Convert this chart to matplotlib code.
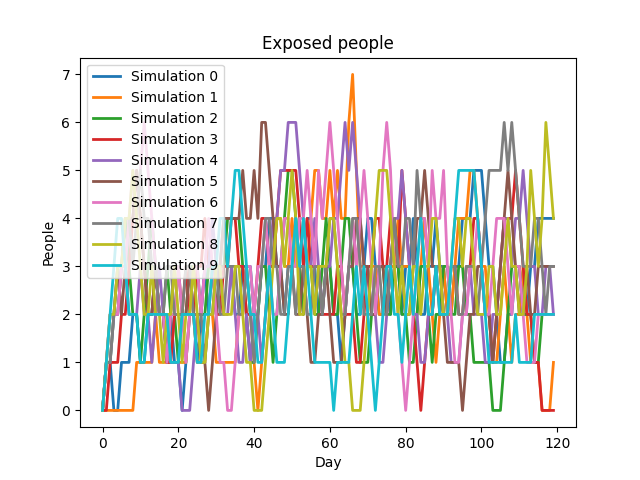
import matplotlib
matplotlib.use("Agg")
import matplotlib.pyplot as plt
import numpy as np

# exposed people per day, one list per simulation run
sim0 = [0, 1, 1, 0, 0, 1, 1, 1, 2, 2,
        1, 1, 2, 2, 3, 2, 2, 1, 2, 1,
        1, 0, 1, 2, 2, 1, 2, 3, 2, 2,
        3, 3, 4, 3, 3, 2, 2, 3, 3, 3,
        2, 2, 3, 3, 4, 4, 3, 3, 2, 3,
        3, 4, 3, 3, 4, 4, 3, 2, 2, 3,
        3, 2, 2, 1, 2, 3, 3, 2, 2, 3,
        4, 4, 3, 2, 2, 3, 2, 3, 3, 2,
        3, 3, 4, 3, 2, 2, 3, 3, 4, 3,
        3, 2, 2, 3, 3, 4, 4, 4, 5, 5,
        5, 4, 3, 3, 2, 1, 1, 2, 2, 3,
        3, 2, 2, 3, 3, 4, 4, 4, 4, 4]
sim1 = [0, 0, 0, 0, 0, 0, 0, 0, 0, 1,
        1, 1, 1, 1, 2, 1, 1, 1, 1, 1,
        1, 1, 1, 2, 2, 1, 1, 1, 2, 2,
        1, 1, 1, 1, 1, 1, 2, 2, 3, 2,
        1, 0, 1, 2, 3, 3, 4, 4, 3, 3,
        4, 3, 3, 2, 3, 4, 5, 5, 4, 4,
        5, 4, 5, 4, 4, 6, 7, 5, 3, 3,
        3, 3, 3, 2, 2, 3, 3, 3, 4, 3,
        3, 3, 2, 2, 3, 4, 3, 2, 1, 2,
        3, 2, 2, 3, 4, 4, 4, 5, 5, 4,
        3, 3, 2, 1, 1, 2, 3, 2, 1, 2,
        2, 3, 2, 1, 1, 1, 0, 0, 0, 1]
sim2 = [0, 1, 1, 2, 2, 3, 4, 3, 2, 2,
        1, 2, 3, 4, 3, 2, 2, 3, 2, 2,
        1, 2, 2, 3, 3, 3, 2, 2, 3, 3,
        2, 3, 3, 4, 4, 4, 4, 3, 2, 1,
        1, 2, 3, 3, 2, 1, 2, 3, 4, 5,
        5, 4, 3, 2, 3, 3, 2, 2, 3, 4,
        3, 2, 2, 3, 4, 4, 3, 2, 1, 1,
        1, 2, 2, 3, 3, 2, 2, 3, 3, 2,
        2, 1, 1, 2, 3, 3, 2, 1, 2, 2,
        3, 3, 2, 2, 3, 3, 2, 2, 1, 1,
        1, 1, 1, 0, 0, 0, 1, 2, 3, 3,
        3, 2, 2, 2, 1, 1, 2, 2, 2, 2]
sim3 = [0, 0, 1, 1, 1, 2, 2, 3, 4, 5,
        4, 3, 2, 2, 3, 2, 2, 1, 1, 2,
        2, 2, 3, 2, 2, 3, 3, 4, 3, 3,
        2, 2, 3, 3, 4, 4, 3, 3, 2, 2,
        2, 3, 4, 4, 3, 3, 4, 5, 5, 5,
        5, 5, 4, 3, 4, 3, 3, 3, 2, 2,
        2, 2, 3, 3, 2, 2, 2, 1, 1, 2,
        3, 3, 4, 4, 3, 3, 4, 4, 3, 5,
        4, 3, 2, 1, 0, 1, 2, 2, 3, 3,
        2, 2, 3, 3, 2, 2, 3, 3, 4, 4,
        3, 2, 2, 1, 2, 3, 4, 4, 4, 5,
        4, 3, 2, 2, 1, 1, 0, 0, 0, 0]
sim4 = [0, 1, 1, 2, 2, 3, 3, 2, 2, 2,
        3, 2, 2, 1, 2, 3, 2, 2, 1, 1,
        1, 0, 0, 0, 1, 2, 2, 3, 3, 4,
        3, 3, 2, 2, 3, 2, 1, 1, 2, 1,
        2, 2, 1, 2, 3, 4, 4, 5, 5, 6,
        6, 6, 5, 4, 3, 3, 4, 3, 2, 3,
        3, 4, 4, 5, 6, 5, 6, 5, 4, 3,
        3, 2, 2, 1, 1, 2, 3, 4, 4, 5,
        4, 3, 2, 2, 1, 1, 2, 2, 3, 3,
        2, 2, 1, 1, 1, 2, 2, 3, 2, 2,
        2, 1, 1, 2, 2, 3, 4, 4, 3, 4,
        4, 5, 4, 3, 3, 2, 2, 3, 3, 2]
sim5 = [0, 1, 2, 2, 3, 2, 3, 4, 4, 5,
        4, 3, 2, 2, 3, 2, 2, 1, 2, 3,
        3, 2, 2, 3, 2, 2, 1, 1, 0, 1,
        2, 3, 4, 4, 4, 4, 4, 5, 4, 4,
        5, 4, 6, 6, 5, 4, 3, 3, 2, 2,
        3, 2, 2, 3, 2, 1, 1, 2, 2, 3,
        2, 1, 1, 1, 2, 3, 3, 4, 4, 3,
        3, 2, 2, 3, 3, 2, 3, 4, 3, 3,
        2, 2, 3, 4, 4, 5, 4, 3, 3, 2,
        2, 1, 1, 1, 1, 0, 1, 2, 2, 3,
        3, 2, 2, 1, 2, 3, 4, 5, 4, 3,
        2, 2, 3, 2, 2, 3, 3, 3, 3, 3]
sim6 = [0, 1, 2, 2, 2, 3, 3, 4, 5, 4,
        5, 6, 5, 4, 3, 2, 2, 1, 2, 2,
        3, 2, 1, 2, 3, 3, 2, 3, 4, 3,
        2, 1, 1, 0, 0, 1, 2, 2, 3, 3,
        2, 3, 3, 4, 3, 2, 2, 3, 4, 4,
        3, 3, 4, 4, 5, 4, 3, 5, 4, 5,
        6, 5, 4, 3, 2, 3, 4, 3, 4, 5,
        4, 3, 2, 3, 5, 6, 5, 3, 2, 1,
        0, 1, 2, 3, 4, 4, 3, 5, 4, 4,
        5, 3, 2, 1, 1, 2, 2, 3, 3, 4,
        3, 2, 2, 3, 4, 4, 4, 3, 2, 3,
        3, 2, 1, 1, 1, 2, 2, 2, 2, 2]
sim7 = [0, 1, 1, 2, 3, 3, 4, 4, 3, 4,
        5, 4, 4, 3, 3, 2, 2, 3, 3, 2,
        2, 2, 3, 3, 2, 2, 2, 1, 2, 3,
        3, 2, 2, 3, 3, 3, 2, 2, 3, 2,
        1, 2, 3, 4, 4, 3, 3, 2, 2, 3,
        3, 2, 3, 3, 2, 2, 3, 3, 2, 3,
        4, 4, 3, 2, 2, 3, 4, 4, 3, 2,
        2, 2, 3, 3, 2, 2, 3, 4, 3, 3,
        4, 4, 3, 5, 4, 3, 2, 2, 3, 3,
        2, 2, 3, 3, 2, 2, 3, 3, 3, 2,
        3, 4, 5, 5, 5, 5, 6, 5, 6, 5,
        4, 3, 3, 3, 4, 4, 3, 2, 3, 3]
sim8 = [0, 1, 2, 2, 3, 3, 4, 4, 5, 4,
        3, 2, 2, 3, 2, 2, 1, 2, 2, 3,
        2, 1, 2, 2, 3, 2, 1, 1, 2, 2,
        3, 3, 2, 2, 2, 3, 3, 2, 1, 1,
        0, 0, 0, 1, 2, 3, 4, 4, 3, 4,
        5, 4, 2, 2, 3, 3, 2, 3, 3, 3,
        4, 4, 3, 2, 1, 1, 0, 0, 0, 1,
        2, 3, 4, 5, 5, 5, 4, 3, 2, 3,
        2, 2, 3, 3, 2, 3, 3, 4, 4, 3,
        2, 2, 3, 4, 4, 3, 4, 4, 3, 2,
        2, 2, 3, 3, 2, 2, 3, 4, 3, 3,
        2, 2, 3, 5, 4, 3, 4, 6, 5, 4]
sim9 = [0, 1, 2, 3, 4, 4, 3, 2, 2, 2,
        1, 1, 2, 2, 2, 2, 2, 2, 1, 1,
        1, 2, 2, 2, 2, 1, 1, 2, 2, 3,
        3, 4, 4, 3, 4, 5, 5, 4, 3, 2,
        2, 1, 1, 2, 3, 2, 1, 1, 1, 2,
        3, 4, 3, 4, 3, 2, 1, 1, 1, 1,
        1, 0, 1, 1, 1, 1, 2, 3, 2, 3,
        2, 1, 0, 1, 2, 3, 3, 2, 2, 1,
        2, 3, 2, 3, 4, 3, 2, 2, 3, 2,
        2, 2, 3, 4, 5, 5, 5, 5, 5, 4,
        3, 2, 1, 1, 1, 1, 1, 1, 1, 2,
        1, 1, 1, 1, 2, 2, 2, 2, 2, 2]

sims = [sim0, sim1, sim2, sim3, sim4, sim5, sim6, sim7, sim8, sim9]
days = np.arange(len(sim0))

fig, ax = plt.subplots(figsize=(6.4, 4.8), dpi=100)
for i, s in enumerate(sims):
    ax.plot(days, s, linewidth=2, label='Simulation ' + str(i))
ax.set_title('Exposed people')
ax.set_xlabel('Day')
ax.set_ylabel('People')
ax.legend(loc='upper left')
fig.savefig('out.png')
